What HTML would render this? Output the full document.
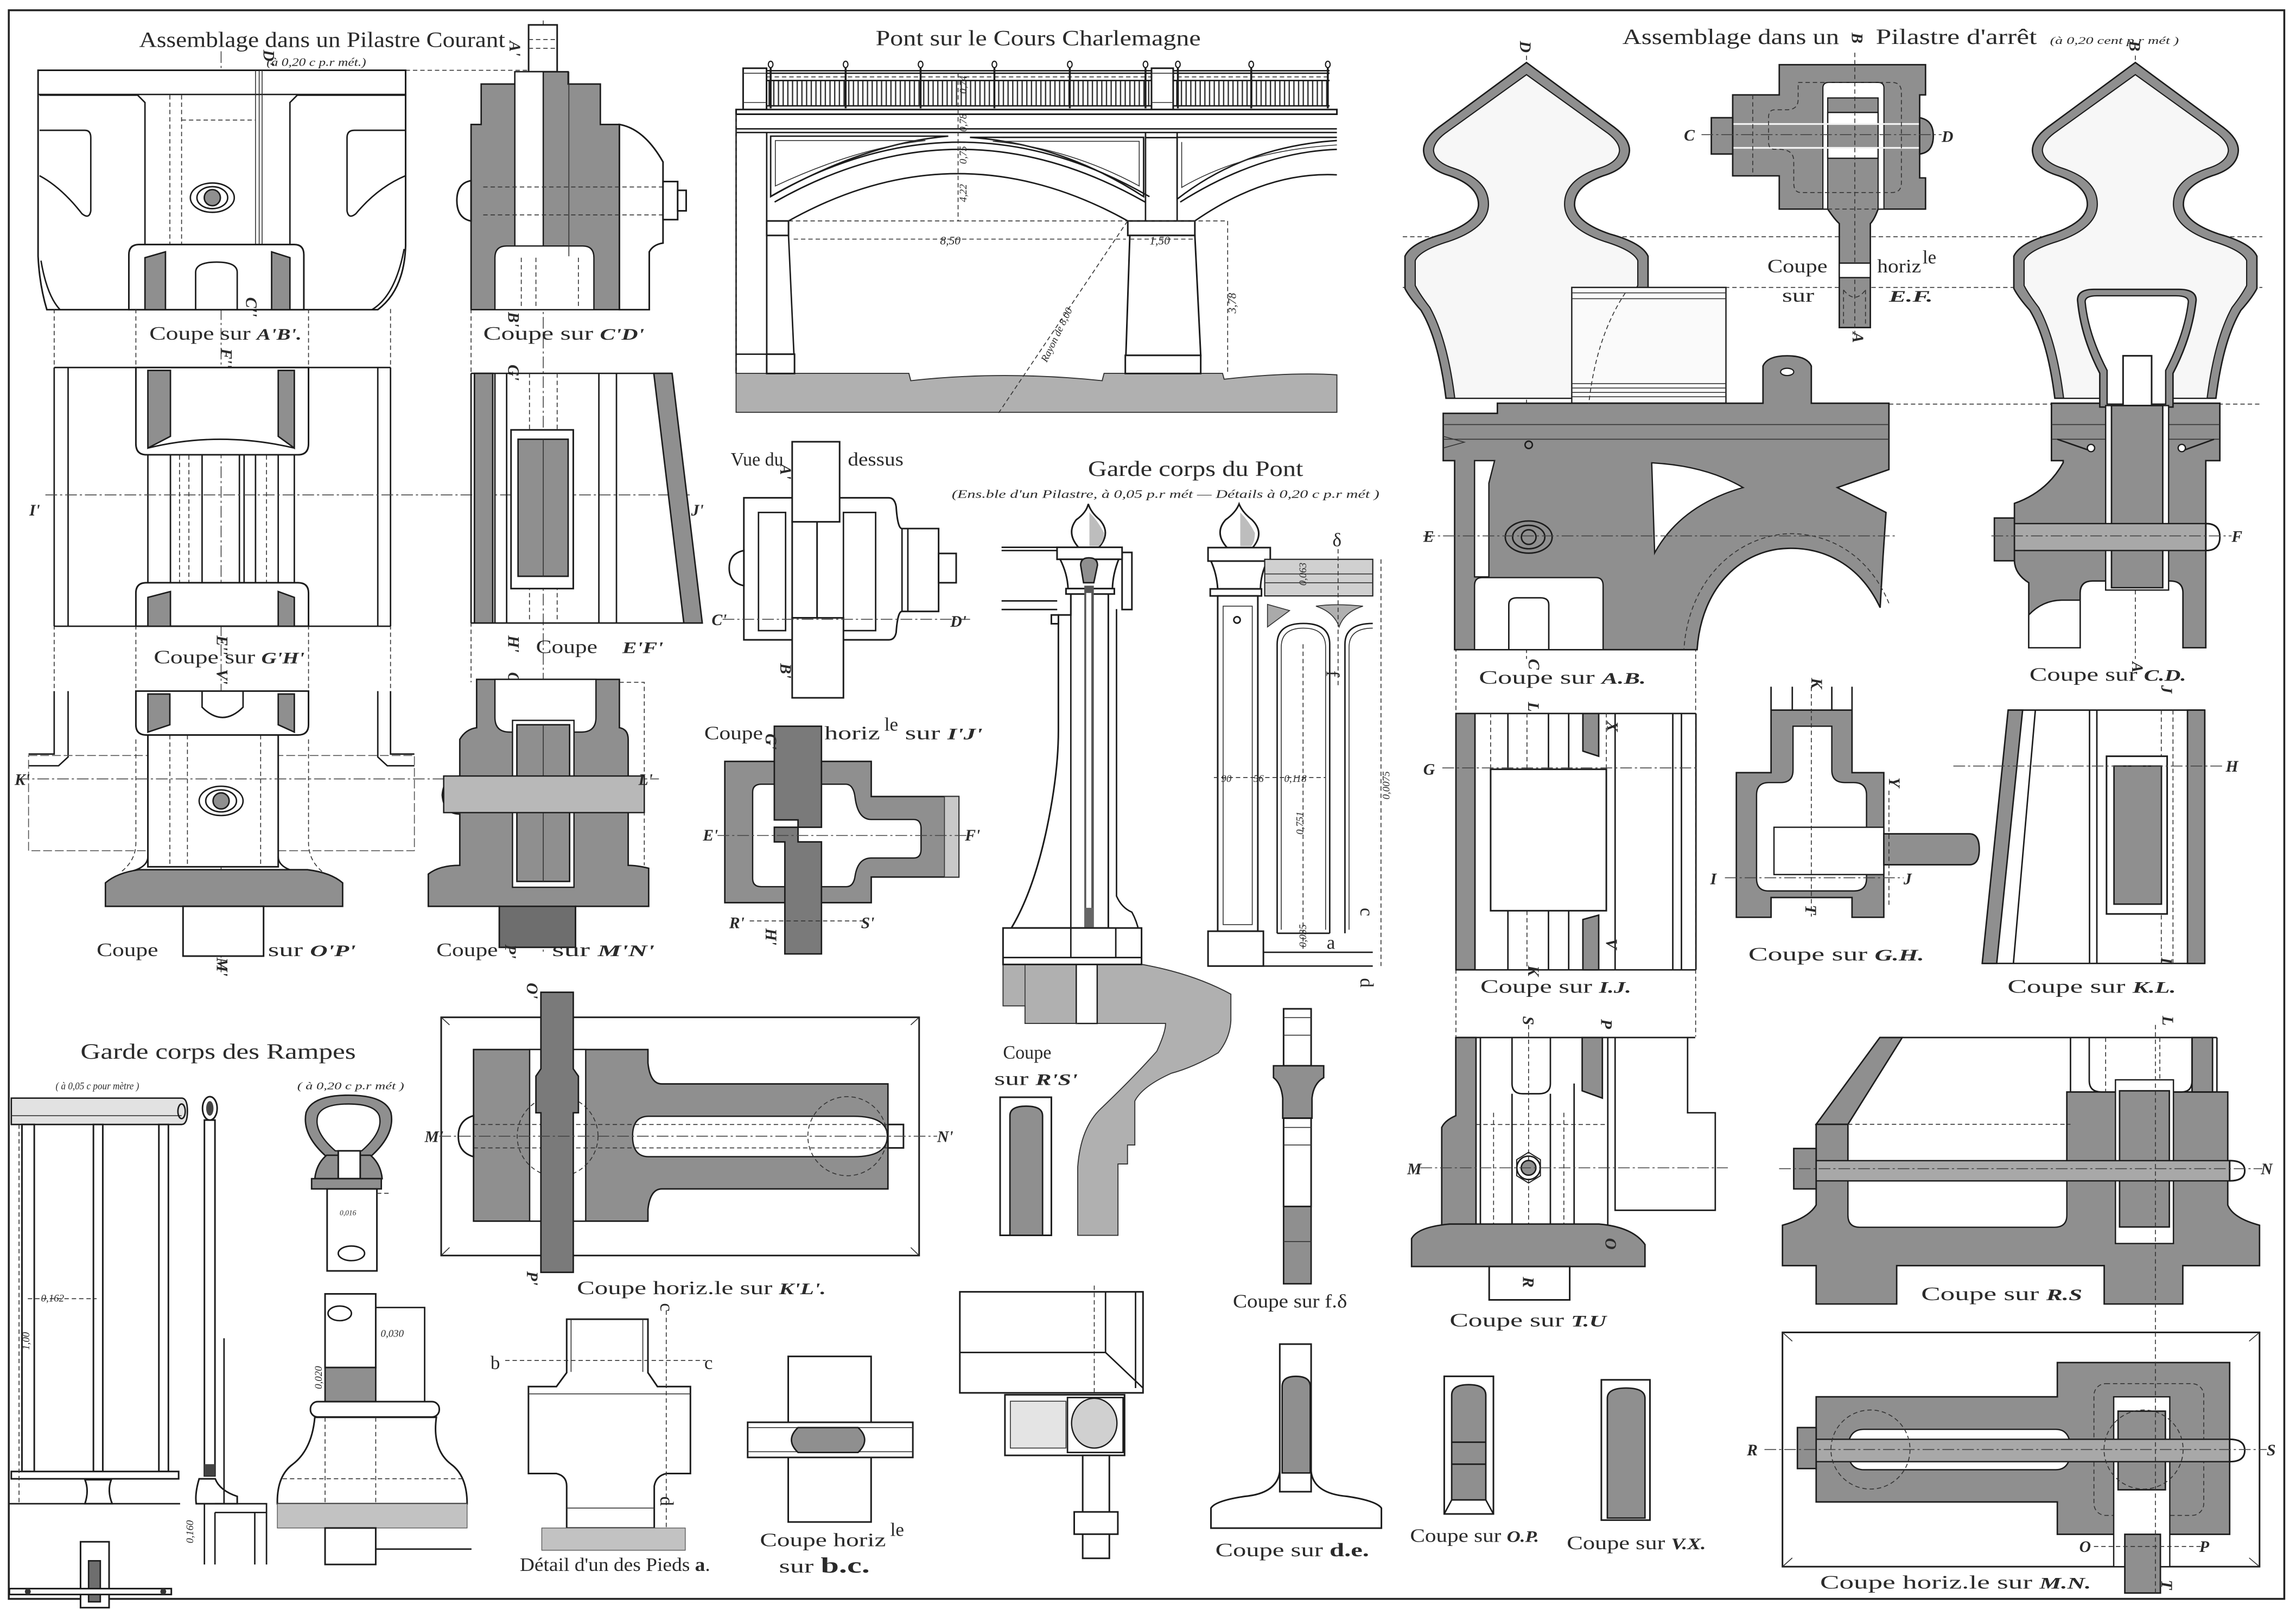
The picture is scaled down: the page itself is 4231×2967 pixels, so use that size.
<!DOCTYPE html>
<html><head><meta charset="utf-8"><style>
html,body{margin:0;padding:0;background:#fff}
svg{display:block}
.o{fill:#fff;stroke:#1c1c1c;stroke-width:1.1}
.w{fill:#fff;stroke:#1c1c1c;stroke-width:0.9}
.n{fill:none;stroke:#1c1c1c;stroke-width:1}
.t{fill:none;stroke:#333;stroke-width:0.6}
.d{fill:none;stroke:#333;stroke-width:0.6;stroke-dasharray:3 2}
.dd{fill:none;stroke:#444;stroke-width:0.6;stroke-dasharray:8 2 1.5 2}
.g{fill:#8f8f8f;stroke:#1c1c1c;stroke-width:1}
.gl{fill:#b6b6b6;stroke:#333;stroke-width:0.8}
.gd{fill:#6e6e6e;stroke:#1c1c1c;stroke-width:1}
text{font-family:"Liberation Serif",serif;fill:#2a2a2a}
.T{font-size:15px}
.L{font-size:13px}
.S{font-size:8px;font-style:italic}
.b{font-style:italic;font-weight:bold;font-size:11px}
.m{font-size:7px;font-style:italic}
</style></head><body>
<svg xmlns="http://www.w3.org/2000/svg" width="4231" height="2967" viewBox="0 0 1568 1099.6" preserveAspectRatio="none">
<defs>
<pattern id="bal" width="3.2" height="20" patternUnits="userSpaceOnUse"><rect x="0" y="0" width="0.9" height="20" fill="#333"/></pattern>
<path id="fin" d="M0,42.7 L60,87 Q70.5,95 70.3,103 Q69.5,115 52.5,120 Q32.5,127 32.8,140 Q33.5,152 57.5,160 Q79,166 83,175 V197 Q80,203 72,212 Q60,232 55,272 H-55 Q-60,232 -72,212 Q-80,203 -83,197 V175 Q-79,166 -57.5,160 Q-33.5,152 -32.8,140 Q-32.5,127 -52.5,120 Q-69.5,115 -70.3,103 Q-70.5,95 -60,87 Z"/>
<path id="finIn" d="M0,51 L55.5,91 Q63.5,97 63.5,103 Q62.5,111 49.5,115 Q25.5,123 26,140 Q26.5,156 53.5,165 Q73,171 76,178 V195 Q73,201 66,210 Q54,232 49,272 H-49 Q-54,232 -66,210 Q-73,201 -76,195 V178 Q-73,171 -53.5,165 Q-26.5,156 -26,140 Q-25.5,123 -49.5,115 Q-62.5,111 -63.5,103 Q-63.5,97 -55.5,91 Z"/>
</defs>
<rect x="0" y="0" width="1568" height="1099.6" fill="#fff"/>
<rect x="6" y="7" width="1554" height="1085" fill="none" stroke="#222" stroke-width="1.3"/>

<!-- ========== LEFT TOP : Pilastre Courant ========== -->
<text class="T" x="95" y="32" textLength="250" lengthAdjust="spacingAndGlyphs">Assemblage dans un Pilastre Courant</text>
<text class="S" x="182" y="45" textLength="68" lengthAdjust="spacingAndGlyphs">(à 0,20 c p.r mét.)</text>
<line class="d" x1="277" y1="48" x2="361" y2="48"/>
<line class="dd" x1="151" y1="35" x2="151" y2="665"/>
<line class="dd" x1="371" y1="14" x2="371" y2="650"/>

<!-- A'B' -->
<path class="o" d="M26,48H277V168Q276,198 258,211.5H32Q27,195 26,175Z"/>
<line class="n" x1="26" y1="64.5" x2="277" y2="64.5"/>
<path class="n" d="M27,65H94L99,70V167M277,65H203L198,70V167"/>
<path class="n" d="M27,89H58Q62,89 62,94V144Q61,150 56,146Q42,128 27,120"/>
<path class="n" d="M277,89H242Q237,89 237,94V144Q238,150 243,146Q258,128 277,120"/>
<path class="n" d="M28,178Q32,202 41,211.5M276,170Q270,202 254,211.5"/>
<path class="t" d="M174.5,48V167M177,48V167M179,48V167"/>
<path class="d" d="M116,65V211M124,65V211M124,82H174.5"/>
<path class="o" d="M88,211.5V174Q88,167 95,167H201Q207.5,167 207.5,174V211.5Z"/>
<polygon class="g" points="99,176 113,172 113,211.5 99,211.5"/>
<polygon class="g" points="185.5,172 198,176 198,211.5 185.5,211.5"/>
<path class="n" d="M133.6,211.5V186Q133.6,179 148,179Q162,179 162,186V211.5"/>
<ellipse class="n" cx="145" cy="135" rx="15" ry="10"/>
<ellipse class="n" cx="145" cy="135" rx="10.5" ry="7.5"/>
<circle class="g" cx="145" cy="135" r="5.5"/>
<text class="L" x="102" y="232" textLength="104" lengthAdjust="spacingAndGlyphs">Coupe sur <tspan class="b">A'B'.</tspan></text>
<text class="b" x="170" y="36" transform="rotate(90 176 40)">D'</text>
<text class="b" x="167" y="212" transform="rotate(90 172 208)">C''</text>

<!-- C'D' -->
<rect class="o" x="361" y="17" width="19.5" height="32"/>
<path class="d" d="M361,27H380.5M361,33H380.5"/>
<path class="g" d="M328.6,57.4H351.6V49H388V57.4H410V85H423V211.5H321.7V85H328.6Z"/>
<path class="o" d="M423,85Q440,88 452.8,110.6V166Q446,167 443.4,172V211.5H423Z"/>
<path class="w" d="M351.6,49H371V168Q371,174.5 365,174.5H357Q351.6,174.5 351.6,168Z"/>
<path class="w" d="M338,211.5V176Q338,168 346,168H398Q405.6,168 405.6,176V211.5Z"/>
<line class="t" x1="388.5" y1="49" x2="388.5" y2="175"/>
<path class="d" d="M330,127.7H454M330,146.8H454M356,176V211M366,176V211M395,176V211"/>
<path class="o" d="M321.7,123.4Q312,125 312,137Q312,149 321.7,151Z"/>
<rect class="o" x="452.8" y="124" width="10" height="26"/>
<rect class="o" x="462.8" y="130" width="5.8" height="14"/>
<text class="L" x="330" y="232" textLength="110" lengthAdjust="spacingAndGlyphs">Coupe sur <tspan class="b">C'D'</tspan></text>
<text class="b" x="346" y="38" transform="rotate(90 352 34)">A'</text>
<text class="b" x="346" y="222" transform="rotate(90 351 218)">B'</text>
<text class="b" x="346" y="258" transform="rotate(90 351 254)">G'</text>

<!-- projection lines -->
<path class="d" d="M37,211V251M92.8,211V251M210.7,211V251M266.7,211V251M321.7,211V255M37,427V472M92.8,427V472M210.7,427V472M266.7,427V472M321.7,425V466"/>

<!-- G'H' -->
<path class="n" d="M37,251V427.7M46.5,251V427.7M37,251H92.8M37,427.7H92.8M258,251V427.7M266.7,251V427.7M210.7,251H266.7M210.7,427.7H266.7"/>
<path class="n" d="M101,306V398M116.4,298V398M138,300V398M163.5,305V398M166.7,305V398M174.5,305V398M190,298V398M201,306V398"/>
<path class="d" d="M122.6,251V427M129,251V427M182,251V427"/>
<path class="o" d="M92.8,251V303Q92.8,310.6 100,310.6H203.5Q210.7,310.6 210.7,303V251Z"/>
<polygon class="g" points="101,253 116.4,253 116.4,298 101,306"/>
<polygon class="g" points="190,253 201,253 201,306 190,298"/>
<path class="n" d="M101,306Q150,294 201,306"/>
<path class="o" d="M92.8,427.7V405Q92.8,398 100,398H203.5Q210.7,398 210.7,405V427.7Z"/>
<polygon class="g" points="101,408 116.4,404 116.4,427.7 101,427.7"/>
<polygon class="g" points="190,404 201,408 201,427.7 190,427.7"/>
<line class="dd" x1="31" y1="338" x2="472" y2="338"/>
<text class="b" x="20" y="352">I'</text>
<text class="b" x="472" y="352">J'</text>
<text class="L" x="105" y="453" textLength="103" lengthAdjust="spacingAndGlyphs">Coupe sur <tspan class="b">G'H'</tspan></text>
<text class="b" x="149" y="248" transform="rotate(90 155 244)">F''</text>
<text class="b" x="146" y="444" transform="rotate(90 152 440)">E''</text>
<text class="b" x="146" y="467" transform="rotate(90 152 463)">V'</text>

<!-- E'F' -->
<path class="n" d="M321.7,255H459M321.7,425.5H479.6M321.7,255V425.5"/>
<rect class="g" x="324" y="255" width="12.5" height="170.5"/>
<path class="n" d="M338,255V425.5M346,255V425.5M409,255V425.5M421,255V425.5"/>
<path class="d" d="M361.6,255V425.5M380.5,255V425.5"/>
<rect class="o" x="349" y="293.6" width="42.5" height="108.4"/>
<rect class="g" x="353.8" y="300" width="34.2" height="93.6"/>
<line class="t" x1="371" y1="300" x2="371" y2="393.6"/>
<polygon class="g" points="446.5,255 459,255 479.6,425.5 467,425.5"/>
<text class="L" x="366" y="446" textLength="42" lengthAdjust="spacingAndGlyphs">Coupe</text>
<text class="b" x="425" y="446" textLength="28" lengthAdjust="spacingAndGlyphs">E'F'</text>
<text class="b" x="345" y="444" transform="rotate(90 351 440)">H'</text>
<text class="b" x="345" y="469" transform="rotate(90 351 465)">O'</text>

<!-- O'P' -->
<path class="n" d="M37,472V515H19.5M46.5,472V517L40,523H19.5M266.7,472V515H283M258,472V517L264.5,523H283"/>
<rect x="19.5" y="516" width="263.5" height="65" fill="none" stroke="#555" stroke-width="0.6" stroke-dasharray="6 2"/>
<rect class="o" x="101" y="502" width="89" height="90"/>
<path class="d" d="M92.8,505V575Q93,588 82,596M210.7,505V575Q210.5,588 221,596M116,502V592M128,502V592M178,502V592"/>
<path class="o" d="M92.8,472V495Q92.8,502 100,502H203.5Q210.7,502 210.7,495V472Z"/>
<polygon class="g" points="101,474 116,474 116,495 101,500"/>
<polygon class="g" points="190,474 201,474 201,500 190,495"/>
<path class="n" d="M138,472V483Q152,497 166,483V472"/>
<path class="n" d="M101,585Q101,592 90,595M190,585Q190,592 201,595"/>
<path class="g" d="M72,603Q80,596 95,594H210Q226,596 234,603V619H72Z"/>
<rect class="o" x="125" y="619" width="55" height="34"/>
<ellipse class="n" cx="151" cy="547" rx="15" ry="10"/>
<ellipse class="n" cx="151" cy="547" rx="10.5" ry="7.5"/>
<circle class="g" cx="151" cy="547" r="5.5"/>
<line class="dd" x1="12" y1="532" x2="450" y2="532"/>
<text class="b" x="10" y="536">K'</text>
<text class="L" x="66" y="653" textLength="42" lengthAdjust="spacingAndGlyphs">Coupe</text>
<text class="L" x="183" y="653" textLength="60" lengthAdjust="spacingAndGlyphs">sur <tspan class="b">O'P'</tspan></text>
<text class="b" x="146" y="664" transform="rotate(90 152 660)">M'</text>

<!-- M'N' -->
<path class="g" d="M325.5,464H423V497Q429,498 429,505V591Q435,591 443,593V619H393V647H341V619H292.5V597Q300,591 314,591V556Q303,556 302,543Q303,530 314,530V505Q318,498 325.5,497Z"/>
<path class="w" d="M338,464V490Q338,500 348,500H397Q407,500 407,490V464Z"/>
<path class="d" d="M423,466H440V591"/>
<rect class="w" x="350" y="492" width="42" height="114"/>
<rect class="g" x="353" y="495" width="36" height="107"/>
<line class="t" x1="371" y1="495" x2="371" y2="602"/>
<rect x="303" y="530" width="137" height="25" fill="#b8b8b8" stroke="#1c1c1c" stroke-width="0.9"/>
<rect class="gd" x="341" y="619" width="52" height="28"/>
<text class="b" x="436" y="536">L'</text>
<text class="L" x="298" y="653" textLength="42" lengthAdjust="spacingAndGlyphs">Coupe</text>
<text class="L" x="377" y="653" textLength="70" lengthAdjust="spacingAndGlyphs">sur <tspan class="b">M'N'</tspan></text>
<text class="b" x="344" y="654" transform="rotate(90 349 650)">P'</text>

<!-- ========== PONT ========== -->
<text class="T" x="598" y="31" textLength="222" lengthAdjust="spacingAndGlyphs">Pont sur le Cours Charlemagne</text>
<path d="M502.7,255H620.7L622,260Q685,253 752.7,260L754,255H834.9L836,259Q880,254 913,256V281.6H502.7Z" fill="#b0b0b0" stroke="#333" stroke-width="0.7"/>
<rect x="524" y="55" width="384" height="17.3" fill="url(#bal)"/>
<path class="n" d="M524,48.3H908M524,50H908M524,55H908M524,72.3H908"/>
<path class="d" d="M524,52.5H908"/>
<path stroke="#1c1c1c" stroke-width="1.3" d="M526.3,44V74M577.5,44V74M628.7,44V74M679.1,44V74M730.6,44V74M782.3,44V74M804.4,44V74M854.5,44V74M906.8,44V74"/>
<g fill="#fff" stroke="#1c1c1c" stroke-width="0.8">
<ellipse cx="526.3" cy="44" rx="1.6" ry="2.2"/><ellipse cx="577.5" cy="44" rx="1.6" ry="2.2"/><ellipse cx="628.7" cy="44" rx="1.6" ry="2.2"/><ellipse cx="679.1" cy="44" rx="1.6" ry="2.2"/><ellipse cx="730.6" cy="44" rx="1.6" ry="2.2"/><ellipse cx="782.3" cy="44" rx="1.6" ry="2.2"/><ellipse cx="804.4" cy="44" rx="1.6" ry="2.2"/><ellipse cx="854.5" cy="44" rx="1.6" ry="2.2"/><ellipse cx="906.8" cy="44" rx="1.6" ry="2.2"/>
</g>
<rect class="o" x="507.5" y="46.6" width="16" height="28.2"/>
<path class="t" d="M507.5,50H523.5M507.5,70H523.5"/>
<rect class="o" x="786.4" y="46.6" width="14.8" height="28.2"/>
<path class="t" d="M786.4,50H801.2M786.4,70H801.2"/>
<rect class="o" x="502.7" y="74.8" width="410.3" height="3.2"/>
<path class="n" d="M502.7,78H913M502.7,88H913M502.7,90.5H913"/>
<path class="n" d="M502.7,74.8V255.1M523.6,90.5V255.1M782.3,90.5V150.9M803.9,90.5V150.9M782.3,94H803.9"/>
<path class="d" d="M502.7,78V255"/>
<path class="n" d="M502.7,241.9H542"/>
<path class="n" d="M526.3,93H647.6Q590,98 526.3,134.3Z"/>
<path class="t" d="M529.5,96H632Q585,101 529.5,127Z"/>
<path class="n" d="M662.4,93.8H781V134.3Q725,98 662.4,93.8Z"/>
<path class="t" d="M678,96.5H778V127Q730,101 678,96.5Z"/>
<path class="n" d="M803.9,93.8H913M803.9,93.8V136Q850,100 913,96"/>
<path class="t" d="M807,97V128Q850,103 913,99"/>
<path class="n" d="M526,134.3Q655.5,59.9 785,134.3M529,138Q655.5,66 782,138"/>
<path class="n" d="M806,138Q860,104 913,102"/>
<path class="n" d="M538.5,150.9Q654.3,86.3 770.2,150.9"/>
<path class="n" d="M816,150.9Q865,117 913,119.4"/>
<rect class="o" x="523.6" y="150.9" width="14.9" height="9.9"/>
<path class="n" d="M523.6,160.8V241.9M538.5,160.8L542.2,241.9"/>
<rect class="o" x="523.6" y="241.9" width="19" height="13.2"/>
<rect class="o" x="770.2" y="150.9" width="45.8" height="9.9"/>
<path class="o" d="M771.6,160.8H816L820,242.7H768.9Z"/>
<rect class="o" x="768.5" y="242.7" width="51.5" height="12.4"/>
<path class="d" d="M538.5,150.9H838.4M542,163.3H768.9M771.6,163.3H816M838.4,150.9V255.1M654.3,50V150.9M770,151L682,282"/>
<text class="S" x="642" y="167" font-size="9">8,50</text>
<text class="S" x="785" y="167" font-size="9">1,50</text>
<text class="S" x="836" y="214" transform="rotate(-90 840 210)" font-size="9">3,78</text>
<text class="m" x="700" y="232" transform="rotate(-64 720 228)">Rayon de 8,00</text>
<text class="m" x="650" y="60" transform="rotate(-90 657 57)">0,74</text>
<text class="m" x="650" y="86" transform="rotate(-90 657 83)">0,78</text>
<text class="m" x="650" y="108" transform="rotate(-90 657 105)">0,75</text>
<text class="m" x="650" y="134" transform="rotate(-90 657 131)">4,22</text>

<!-- Vue du dessus -->
<text class="L" x="499" y="318" font-size="11" textLength="36" lengthAdjust="spacingAndGlyphs">Vue du</text>
<text class="L" x="579" y="318" font-size="11" textLength="38" lengthAdjust="spacingAndGlyphs">dessus</text>
<path class="o" d="M508,340H607Q611,340 612,346Q613,361 616,361H641V417.6H616Q613,417.6 612,432Q611,437 607,437H508Z"/>
<rect class="o" x="641" y="378" width="12" height="20"/>
<path class="o" d="M508,376Q498,378 498,388Q498,398 508,400Z"/>
<rect class="n" x="518" y="350" width="18.5" height="80.7"/>
<rect class="n" x="576" y="350" width="22" height="80.7"/>
<path class="n" d="M616,361V417.6M620,361V417.6"/>
<rect class="o" x="541" y="356" width="17" height="66"/>
<rect class="o" x="541" y="301.7" width="32.4" height="54.7"/>
<rect class="o" x="541" y="422" width="35" height="54.6"/>
<line class="dd" x1="493.5" y1="423" x2="662.5" y2="423"/>
<text class="b" x="486" y="427">C'</text>
<text class="b" x="649" y="428">D'</text>
<text class="b" x="531" y="327" transform="rotate(90 537 323)">A'</text>
<text class="b" x="531" y="463" transform="rotate(90 537 459)">B'</text>

<!-- Coupe horiz I'J' -->
<text class="L" x="481" y="505" textLength="40" lengthAdjust="spacingAndGlyphs">Coupe</text>
<text class="L" x="563" y="505" textLength="38" lengthAdjust="spacingAndGlyphs">horiz</text>
<text class="L" x="604" y="499" font-size="8">le</text>
<text class="L" x="618" y="505" textLength="53" lengthAdjust="spacingAndGlyphs">sur <tspan class="b">I'J'</tspan></text>
<path class="g" d="M495,520H595V544H654.8V599H595V616.5H495Z"/>
<path class="w" d="M514,541Q514,535.6 520,535.6H578Q583,536 584,545Q586,559.7 595,559.7H624Q629,559.7 629,566V580Q629,586 624,586H595Q586,586 584,598Q583,605.6 578,605.6H520Q514,605.6 514,600Z"/>
<rect x="645" y="544" width="9.8" height="55" fill="#c8c8c8" stroke="#333" stroke-width="0.6"/>
<path fill="#7a7a7a" stroke="#1c1c1c" stroke-width="1" d="M528.8,496H561V565H545V575H561V651.5H536V575H528.8V565H545V560H528.8Z"/>
<line class="dd" x1="490" y1="570.6" x2="662" y2="570.6"/>
<line class="d" x1="512" y1="629" x2="590" y2="629"/>
<text class="b" x="480" y="574">E'</text>
<text class="b" x="659" y="574">F'</text>
<text class="b" x="498" y="634">R'</text>
<text class="b" x="588" y="634">S'</text>
<text class="b" x="521" y="511" transform="rotate(90 527 507)">G'</text>
<text class="b" x="521" y="644" transform="rotate(90 527 640)">H'</text>

<!-- Garde corps du Pont -->
<text class="T" x="743" y="325" textLength="147" lengthAdjust="spacingAndGlyphs">Garde corps du Pont</text>
<text class="S" x="650" y="340" font-size="9" textLength="292" lengthAdjust="spacingAndGlyphs">(Ens.ble d'un Pilastre, à 0,05 p.r mét — Détails à 0,20 c p.r mét )</text>
<!-- stone / corbel -->
<path d="M685,658.7H780Q815,665 840.6,679V697Q840,709 832,719Q815,729 800,733Q780,742 775,752V782H770V795H763.5V843.7H736V797Q738,770 752,757Q775,735 790,718Q796,705 796,699H700V687H685Z" fill="#b0b0b0" stroke="#333" stroke-width="0.7"/>
<rect class="w" x="735" y="658.7" width="14.3" height="40.3"/>
<path class="t" d="M700,658.7V687M711,699H736"/>
<!-- left pilaster side -->
<path class="n" d="M684,373.8H722M684,376H722M684,410.4H722M684,416.3H722"/>
<rect class="o" x="766.3" y="377.3" width="6.7" height="39"/>
<path class="o" d="M731.3,405.7H756.9V633.8H690.7Q705,610 714,570Q722.8,530 722.8,499V420H731.3Z"/>
<path class="n" d="M731.3,405.7V633.8M762.5,416V612Q766,620 773,623Q779.6,635 779.6,654"/>
<rect class="o" x="718" y="420" width="4.8" height="6"/>
<path class="o" d="M736.5,373.8Q728,364 735,355Q742,350 743.2,344.2Q745,350 751,355Q759,364 750.5,373.8Z"/>
<path fill="#bdbdbd" d="M744,350Q750,356 754,364Q754,370 750.5,373H744Z"/>
<rect class="o" x="721.9" y="373.8" width="44.4" height="8.2"/>
<path class="o" d="M724,382H764Q760,392 759.7,402H729.4Q729,392 724,382Z"/>
<rect class="o" x="728" y="402" width="33" height="3.7"/>
<path class="g" d="M738,386Q738,381 743.6,381Q749.5,381 749.5,386L747,398H740Z"/>
<rect x="740.5" y="400" width="6.5" height="251" fill="#555"/>
<rect x="741.8" y="405" width="3.5" height="225" fill="#fff"/>
<rect x="740.5" y="620" width="6.5" height="16" fill="#666"/>
<rect class="o" x="685" y="633.8" width="94.6" height="24.9"/>
<path class="n" d="M685,654H779.6M731.3,633.8V654M762,633.8V654"/>

<!-- elevation -->
<path class="o" d="M838,374Q829,364 837,355Q844,350 846.2,344.2Q848.5,350 855,355Q864,364 855.5,374Z"/>
<path fill="#bdbdbd" d="M847,350Q853,356 857,364Q857,370 854.5,373H847Z"/>
<rect class="o" x="825" y="374" width="42.5" height="9.2"/>
<path class="o" d="M827,383.2H865.5Q861,392 860.8,402.2H831.6Q831,392 827,383.2Z"/>
<rect class="o" x="826.5" y="402.2" width="35" height="4.8"/>
<rect class="o" x="831.6" y="407" width="27.4" height="229"/>
<rect class="t" x="835.3" y="414" width="19.9" height="217.5"/>
<circle class="n" cx="844.8" cy="423.4" r="2.2"/>
<circle class="n" cx="843.9" cy="642.1" r="2.2"/>
<rect class="o" x="825" y="636" width="37.8" height="23.8"/>
<rect x="863.7" y="382" width="73.8" height="25" fill="#d0d0d0" stroke="#222" stroke-width="0.8"/>
<path class="t" d="M863.7,392H937.5M863.7,398H937.5"/>
<path class="n" d="M872.2,637.4V440Q872.2,425.8 890.1,425.8Q908.1,425.8 908.1,440V637.4M918.5,637.4V440Q918.5,425.8 937.5,425.8"/>
<path class="t" d="M875,635V442Q875,429 890.1,429Q905.3,429 905.3,442V635M921.3,635V442Q921.3,429 937.5,429"/>
<path class="n" d="M862.8,650.4H937.5M862.8,659.8H937.5M872.2,637.4H908.1"/>
<polygon fill="#aaa" stroke="#333" stroke-width="0.6" points="865.6,412.8 880.7,417 865.6,428.2"/>
<path fill="#b0b0b0" stroke="#333" stroke-width="0.6" d="M898.7,414Q912,412 930.8,414Q918,418 914.5,428.2Q911,418 898.7,414Z"/>
<path class="d" d="M943.1,382V659.8M829,531H905M889.9,440V650M913.8,375V470"/>
<text class="m" x="834" y="534">90</text>
<text class="m" x="856" y="534">56</text>
<text class="m" x="877" y="534">0,118</text>
<text class="m" x="938" y="545" transform="rotate(-90 944 540)">0,0075</text>
<text class="m" x="883" y="569" transform="rotate(-90 887 566)">0,751</text>
<text class="m" x="886" y="398" transform="rotate(-90 890 396)">0,063</text>
<text class="m" x="886" y="645" transform="rotate(-90 890 643)">0,035</text>
<text class="L" x="905" y="467" transform="rotate(90 910 463)">f</text>
<text class="L" x="910" y="373" font-size="14">δ</text>
<text class="L" x="928" y="629" transform="rotate(90 933 625)">c</text>
<text class="L" x="906" y="648" font-size="14">a</text>
<text class="L" x="928" y="677" transform="rotate(90 933 673)">d</text>

<!-- Coupe R'S' -->
<text class="L" x="685" y="723" font-size="12" textLength="33" lengthAdjust="spacingAndGlyphs">Coupe</text>
<text class="L" x="679" y="741" font-size="12" textLength="57" lengthAdjust="spacingAndGlyphs">sur <tspan class="b">R'S'</tspan></text>
<rect class="o" x="683" y="749.4" width="35" height="94.3"/>
<path class="g" d="M689.7,843.7V762Q689.7,755.5 700.8,755.5Q712,755.5 712,762V843.7Z"/>

<!-- Coupe f.delta -->
<rect class="o" x="876.6" y="689" width="18.8" height="38.9"/>
<path class="t" d="M876.6,695H895.4M876.6,707H895.4"/>
<path class="g" d="M869.7,727.9H904V736Q897,740 896,750V763.7H876V750Q875,740 869.7,736Z"/>
<rect class="o" x="876.6" y="763.7" width="18.8" height="60.3"/>
<path class="t" d="M876.6,770H895.4M876.6,782H895.4"/>
<rect class="g" x="876.6" y="824" width="18.8" height="52.8"/>
<line class="t" x1="876.6" y1="848" x2="895.4" y2="848"/>
<text class="L" x="842" y="893" font-size="12" textLength="78" lengthAdjust="spacingAndGlyphs">Coupe sur f.δ</text>

<!-- box detail -->
<rect class="o" x="655.5" y="882.3" width="125.1" height="69"/>
<path class="n" d="M655.5,923.7H755L780.6,948M755,882.3V923.7M775.5,882.3V948"/>
<path class="d" d="M747.3,878V965"/>
<rect class="o" x="686.3" y="952.6" width="81.7" height="41.4"/>
<rect x="690" y="957" width="38" height="32" fill="#e4e4e4" stroke="#333" stroke-width="0.6"/>
<rect class="n" x="729" y="954.5" width="38" height="37.5"/>
<ellipse cx="747.3" cy="972" rx="15.5" ry="17" fill="#d0d0d0" stroke="#1c1c1c" stroke-width="0.9"/>
<rect class="o" x="739.4" y="994" width="18.2" height="70.3"/>
<rect class="o" x="733.6" y="1032.6" width="29.8" height="15.2"/>

<!-- Coupe d.e -->
<path class="o" d="M874,1005Q872,1020 850,1022Q830,1025 827,1030V1043.7H943.4V1030Q940,1025 920,1022Q897,1020 895.4,1005Z"/>
<rect class="o" x="874" y="918" width="21.4" height="100.8"/>
<path class="g" d="M875.6,1006V947Q875.6,940 885,940Q894.8,940 894.8,947V1006Z"/>
<text class="L" x="830" y="1063" textLength="105" lengthAdjust="spacingAndGlyphs">Coupe sur <tspan font-weight="bold">d.e.</tspan></text>

<!-- Coupe O.P. / V.X. -->
<rect class="o" x="986.3" y="940" width="33.6" height="94"/>
<path class="g" d="M991.4,1024.4V953Q991.4,945.7 1003,945.7Q1014.7,945.7 1014.7,953V1024.4Z"/>
<path class="n" d="M991.4,1024.4L986.3,1034M1014.7,1024.4L1019.9,1034M991.4,985H1014.7M991.4,1000H1014.7"/>
<text class="L" x="963" y="1053" font-size="11" textLength="88" lengthAdjust="spacingAndGlyphs">Coupe sur <tspan class="b">O.P.</tspan></text>
<rect class="o" x="1093.6" y="942.4" width="33.2" height="95.8"/>
<path class="g" d="M1097.7,1036.8V955Q1097.7,948 1110.5,948Q1123.4,948 1123.4,955V1036.8Z"/>
<text class="L" x="1070" y="1058" font-size="11" textLength="95" lengthAdjust="spacingAndGlyphs">Coupe sur <tspan class="b">V.X.</tspan></text>

<!-- ========== BOTTOM LEFT : Rampes ========== -->
<text class="T" x="55" y="723" font-size="16" textLength="188" lengthAdjust="spacingAndGlyphs">Garde corps des Rampes</text>
<text class="m" x="38" y="744" textLength="57" lengthAdjust="spacingAndGlyphs">( à 0,05 c pour mètre )</text>
<text class="m" x="203" y="744" textLength="73" lengthAdjust="spacingAndGlyphs">( à 0,20 c p.r mét )</text>
<path d="M7.7,750H124Q128,750 128,759Q128,768 124,768H7.7Z" fill="#e2e2e2" stroke="#1c1c1c" stroke-width="1"/>
<path class="t" d="M7.7,762H124"/>
<ellipse class="n" cx="124" cy="759" rx="2.5" ry="5"/>
<rect class="o" x="15" y="768" width="8.4" height="237"/>
<rect class="o" x="63.8" y="768" width="6.4" height="237"/>
<rect class="o" x="108.5" y="768" width="6.5" height="237"/>
<rect class="o" x="7.7" y="1005" width="114.3" height="5"/>
<path class="o" d="M58,1010.6Q61,1018 58,1027H76.6Q73,1018 76,1010.6Z"/>
<path class="n" d="M6,1027H123"/>
<path class="d" d="M13,768V1027M19,887H66"/>
<text class="m" x="12" y="922" transform="rotate(-90 16 918)">1,00</text>
<text class="m" x="28" y="889">0,162</text>
<ellipse class="o" cx="143.3" cy="757" rx="5" ry="8"/>
<ellipse cx="143.3" cy="757" rx="2.5" ry="5" fill="#444"/>
<rect class="o" x="139.6" y="765" width="7.2" height="243"/>
<rect x="139.6" y="1000" width="7.2" height="8" fill="#444"/>
<path class="o" d="M136,1010Q133,1020 134,1027H162V1022Q150,1018 147,1010Z"/>
<path class="n" d="M146.8,1027H182V1033H146.8M139.6,1027V1068.5M146.8,1033V1068.5M174,1033V1068.5M182,1027V1068.5M153,914V1027"/>
<text class="m" x="124" y="1054" transform="rotate(-90 128 1050)">0,160</text>
<rect class="o" x="55" y="1053" width="19.5" height="45"/>
<rect class="gd" x="60.5" y="1066" width="8" height="28"/>
<rect class="o" x="6.4" y="1085" width="110.6" height="4"/>
<circle cx="19" cy="1087" r="2" fill="#333"/>
<circle cx="111.5" cy="1087" r="2" fill="#333"/>

<!-- handrail section -->
<path class="g" d="M223,790Q206,775 209,760Q213,748 238,748Q263,748 267,760Q270,775 253,790Z"/>
<path class="w" d="M229,786Q214,773 217,762Q220,754 238,754Q256,754 259,762Q262,773 247,786Z"/>
<path class="g" d="M215,805Q216,795 223,789H253Q260,795 261,805Z"/>
<rect class="o" x="231" y="786" width="15" height="19"/>
<rect class="g" x="212.8" y="805" width="47.6" height="7"/>
<rect class="o" x="223.4" y="812" width="34" height="56"/>
<ellipse class="n" cx="240" cy="856" rx="9" ry="5"/>
<text x="232" y="830" font-size="5" font-style="italic">0,016</text>
<path class="d" d="M257.4,815H266"/>
<rect class="o" x="222" y="883.7" width="34.6" height="50.3"/>
<ellipse class="n" cx="232" cy="897" rx="8" ry="5"/>
<path class="n" d="M256.6,893H290V960"/>
<rect class="g" x="222" y="934" width="34.6" height="23.3"/>
<path class="o" d="M215,968Q213,990 200,1000Q189,1008 189.4,1027H319Q319,1008 308,1000Q295,990 298,968Z"/>
<rect class="o" x="212" y="957.3" width="88" height="10.5" rx="5"/>
<path class="d" d="M222,968V1027M256.6,968V1027M193,1010H316"/>
<rect x="189.4" y="1027" width="129.6" height="16.6" fill="#c2c2c2" stroke="#555" stroke-width="0.5"/>
<rect class="o" x="222" y="1043.6" width="34.6" height="24.9"/>
<path class="n" d="M256.6,1058H322"/>
<text class="m" x="260" y="913">0,030</text>
<text class="m" x="211" y="948" transform="rotate(-90 215.7 944)">0,020</text>

<!-- Coupe horiz K'L' -->
<rect class="o" x="301.3" y="694.8" width="326.4" height="162.7"/>
<path class="t" d="M301.3,694.8L307,700M627.7,694.8L622,700M301.3,857.5L307,852M627.7,857.5L622,852"/>
<path class="g" d="M323.4,716.8H442.5V726Q444,740.3 452,740.3H606.4V812H452Q444,812 442.5,826V834H323.4Z"/>
<path class="w" d="M443,762.4H583Q606,762.4 606,776Q606,790 583,790H443Q432,790 432,776Q432,762.4 443,762.4Z"/>
<rect class="w" x="361.7" y="716.8" width="38.3" height="117.2"/>
<path class="d" d="M323.4,768H606M323.4,784H606"/>
<circle class="d" cx="380.8" cy="776" r="27.6"/>
<circle class="d" cx="578.7" cy="776" r="27"/>
<path fill="#7a7a7a" stroke="#1c1c1c" stroke-width="1" d="M369.4,677.7H391.5V730L395,735V760H391.5V869H369.4V760H366V735L369.4,730Z"/>
<path class="o" d="M323.4,762Q313,765 313,776Q313,787 323.4,790Z"/>
<rect class="o" x="606.4" y="768" width="10.6" height="16"/>
<line class="dd" x1="300" y1="776" x2="640" y2="776"/>
<text class="b" x="290" y="780">M'</text>
<text class="b" x="640" y="780">N'</text>
<text class="b" x="357" y="682" transform="rotate(90 363.8 678)">O'</text>
<text class="b" x="357" y="879" transform="rotate(90 363.8 875)">P'</text>
<text class="L" x="394" y="884" font-size="14" textLength="170" lengthAdjust="spacingAndGlyphs">Coupe horiz.le sur <tspan class="b">K'L'.</tspan></text>

<!-- Detail d'un des pieds -->
<path class="o" d="M387,901V937.5L380,947H360.9V1006.4H380Q387,1008 387,1015V1043.6H446.8V1015Q448,1008 455,1006.4H471.5V947H449L442.5,937.5V901Z"/>
<path class="t" d="M360.9,952H471.5M387,1030H446.8M390,901V937M439,901V937"/>
<rect x="370" y="1043.6" width="98" height="15.2" fill="#c2c2c2" stroke="#555" stroke-width="0.5"/>
<path class="d" d="M345,929.2H482M455,895V1043"/>
<text class="L" x="335" y="935" font-size="14">b</text>
<text class="L" x="481" y="935" font-size="14">c</text>
<text class="L" x="450" y="899" transform="rotate(90 455 895)" font-size="12">c</text>
<text class="L" x="450" y="1031" transform="rotate(90 455 1027)" font-size="12">d</text>
<text class="L" x="355" y="1073" font-size="11" textLength="130" lengthAdjust="spacingAndGlyphs">Détail d'un des Pieds <tspan font-weight="bold" font-size="13">a</tspan>.</text>

<!-- Coupe horiz b.c -->
<rect class="o" x="538.3" y="926.4" width="56.6" height="113.1"/>
<rect class="o" x="510.6" y="971.4" width="112.8" height="24"/>
<path class="t" d="M510.6,975H623.4M510.6,991.5H623.4"/>
<path class="g" d="M545,975H586Q595,983.4 586,992H545Q536,983.4 545,975Z"/>
<text class="L" x="519" y="1056" textLength="86" lengthAdjust="spacingAndGlyphs">Coupe horiz</text>
<text class="L" x="608" y="1049" font-size="8">le</text>
<text class="L" x="532" y="1074" textLength="62" lengthAdjust="spacingAndGlyphs">sur <tspan font-weight="bold" font-size="15">b.c.</tspan></text>

<!-- ========== RIGHT : Pilastre d'arret ========== -->
<text class="T" x="1108" y="30" textLength="148" lengthAdjust="spacingAndGlyphs">Assemblage dans un</text>
<text class="T" x="1281" y="30" textLength="110" lengthAdjust="spacingAndGlyphs">Pilastre d'arrêt</text>
<text class="m" x="1400" y="30" textLength="88" lengthAdjust="spacingAndGlyphs">(à 0,20 cent p.r mét )</text>
<path class="d" d="M958,161.7H1545M958,196.3H1545M1180,276H1545M994.3,442V708M1158,442V708M1042.5,38V450M1458.3,38V450"/>

<!-- A.B. finial -->
<use href="#fin" x="1042.5" fill="#8f8f8f" stroke="#1c1c1c" stroke-width="1"/>
<use href="#finIn" x="1042.5" fill="#f7f7f7" stroke="#1c1c1c" stroke-width="0.8"/>
<!-- A.B. main block -->
<path class="g" d="M985.6,282.3H1022.6V275.4H1204V250Q1207,243 1220.5,243Q1234,243 1237,250V275.4H1290V320.7L1254.8,333L1288,350L1286,380L1284,415C1270,385 1245,374 1221.6,374.5C1190,375 1162,400 1159,443.7H993.4V314.6H985.6Z"/>
<path class="d" d="M1290,412C1276,378 1248,364 1221.6,364.5C1186,366 1153,396 1150,443.7"/>
<path class="t" d="M985.6,290H1290M985.6,300H1290M985.6,306L1000,302L985.6,298"/>
<ellipse cx="1220.5" cy="254" rx="4.5" ry="2.5" fill="#fff" stroke="#1c1c1c" stroke-width="0.8"/>
<path class="w" d="M1128,316.1Q1165,318 1190.4,333Q1148,345 1130,377.6Z"/>
<path class="w" d="M1007,314.6H1020.7L1016.8,330V394H1007Z"/>
<path class="w" d="M1007,443.7V400Q1007,394.5 1012,394.5H1090Q1094.8,394.5 1094.8,400V443.7Z"/>
<path class="n" d="M1030.4,443.7V413Q1030.4,408.3 1036,408.3H1052Q1057.7,408.3 1057.7,413V443.7"/>
<rect x="1073.4" y="196.3" width="105.3" height="79" fill="#fafafa" stroke="#1c1c1c" stroke-width="0.9"/>
<path class="t" d="M1073.4,200H1178.7M1073.4,204H1178.7M1073.4,262H1178.7M1073.4,265H1178.7M1073.4,268H1178.7M1073.4,271H1178.7"/>
<path class="d" d="M1110,200Q1090,230 1085,276"/>
<circle class="n" cx="1044" cy="303.8" r="2.5"/>
<ellipse class="n" cx="1044" cy="366.8" rx="16" ry="11"/>
<ellipse class="n" cx="1044" cy="366.8" rx="11" ry="8"/>
<circle class="g" cx="1044" cy="366.8" r="5"/>
<line class="dd" x1="972" y1="366" x2="1296" y2="366"/>
<text class="b" x="972" y="370">E</text>
<text class="b" x="1036" y="38" transform="rotate(90 1042 34)">D</text>
<text class="b" x="1042" y="460" transform="rotate(90 1048 456)">C</text>
<text class="L" x="1010" y="467" textLength="114" lengthAdjust="spacingAndGlyphs">Coupe sur <tspan class="b">A.B.</tspan></text>

<!-- Coupe horiz E.F. -->
<path class="g" d="M1215.1,44.2H1315V64.8H1311V121.5H1315V142.8H1282.6Q1280,150 1277.3,152.7V223.7H1256.1V152.7Q1253,150 1248.2,142.8H1215.1V120.1H1183.3V64.8H1215.1Z"/>
<path fill="#fff" stroke="#1c1c1c" stroke-width="0.8" d="M1244.9,142.8V60Q1244.9,56.3 1249,56.3H1282.5Q1286.6,56.3 1286.6,60V142.8H1282.6V66.9H1248.2V142.8Z"/>
<rect class="w" x="1248.2" y="76.8" width="34.4" height="7.9"/>
<rect class="w" x="1248.2" y="101" width="34.4" height="7.1"/>
<path fill="none" stroke="#f2f2f2" stroke-width="1.2" d="M1183.3,84.7H1311M1183.3,101H1311"/>
<rect class="g" x="1168.7" y="80.4" width="14.6" height="24.8"/>
<path class="g" d="M1311,80.4Q1320.3,82 1320.3,92.8Q1320.3,104 1311,105.2Z"/>
<path class="d" d="M1228,56.3H1292Q1298.5,56.3 1298.5,63V125Q1298.5,131.5 1292,131.5H1230Q1225,131.5 1225,125V110Q1225,102 1215,102H1212Q1207.8,102 1207.8,97V80Q1207.8,75 1212,75H1220Q1228,75 1228,68Z"/>
<path class="d" d="M1197,64.8V120.1M1266.7,36V230M1248.2,142.8H1282.6"/>
<rect class="w" x="1256.1" y="179.7" width="21.2" height="9.9"/>
<path class="d" d="M1259,198Q1266.7,208 1274,198M1259,198V223M1274,198V223"/>
<line class="dd" x1="1162" y1="92" x2="1326" y2="92"/>
<text class="b" x="1150" y="96">C</text>
<text class="b" x="1326" y="97">D</text>
<text class="b" x="1262" y="33" transform="rotate(90 1268.7 29)">B</text>
<text class="b" x="1262" y="237" transform="rotate(90 1268.7 233.5)">A</text>
<text class="L" x="1207" y="186" font-size="12" textLength="41" lengthAdjust="spacingAndGlyphs">Coupe</text>
<text class="L" x="1282" y="186" font-size="12" textLength="30" lengthAdjust="spacingAndGlyphs">horiz</text>
<text class="L" x="1313" y="180" font-size="8">le</text>
<text class="L" x="1217" y="206" font-size="12" textLength="22" lengthAdjust="spacingAndGlyphs">sur</text>
<text class="b" x="1290" y="206" textLength="30" lengthAdjust="spacingAndGlyphs">E.F.</text>

<!-- C.D. -->
<use href="#fin" x="1458.3" fill="#8f8f8f" stroke="#1c1c1c" stroke-width="1"/>
<use href="#finIn" x="1458.3" fill="#f7f7f7" stroke="#1c1c1c" stroke-width="0.8"/>
<path class="g" d="M1401,275.4H1516V314.6H1506.4V442.4H1490.8V405Q1490.8,396.8 1482,396.8H1429Q1420.6,396.8 1420.6,405V442.4H1385.5V398Q1376,392 1375.7,383V343.8Q1398,336 1409,316V314.6H1401Z"/>
<path class="w" d="M1385.5,442.4V420Q1395,410 1408,409.9H1420.6V442.4Z"/>
<path class="t" d="M1401,290H1516M1401,300H1516"/>
<path class="g" d="M1418.8,205Q1418.8,197.6 1430,197.6H1488Q1499.8,197.6 1499.8,205Q1497,230 1484,255V278H1434V255Q1421,230 1418.8,205Z"/>
<path class="w" d="M1424,206Q1424,202 1432,202H1486Q1494.5,202 1494.5,206Q1492,228 1479,253V276H1439V253Q1426,228 1424,206Z"/>
<rect class="o" x="1449.9" y="243" width="19.5" height="34"/>
<rect class="w" x="1438" y="277" width="43" height="126"/>
<rect class="g" x="1442" y="277" width="35" height="124.4"/>
<rect x="1362.8" y="357.6" width="143.6" height="18.4" fill="#a8a8a8" stroke="#1c1c1c" stroke-width="0.9"/>
<rect class="g" x="1362" y="353.8" width="13.7" height="29.2"/>
<path class="o" d="M1506.4,357.6Q1516,357.6 1516,366.8Q1516,376 1506.4,376Z"/>
<path class="n" d="M1405,300L1428,308M1490,308L1512,300"/>
<circle class="w" cx="1428" cy="306" r="2.5"/>
<circle class="w" cx="1490" cy="306" r="2.5"/>
<line class="dd" x1="1360" y1="366" x2="1524" y2="366"/>
<text class="b" x="1524" y="370">F</text>
<text class="b" x="1452" y="38" transform="rotate(90 1458.3 34)">B</text>
<text class="b" x="1454" y="462" transform="rotate(90 1460 458)">A</text>
<text class="L" x="1386" y="465" textLength="107" lengthAdjust="spacingAndGlyphs">Coupe sur <tspan class="b">C.D.</tspan></text>

<!-- I.J. -->
<path class="n" d="M994.3,487.3H1158.2M994.3,662.4H1158.2M1158.2,487.3V662.4M1029.8,487.3V662.4M1057.5,487.3V662.4M1071.3,487.3V662.4M1103,487.3V662.4M1142.4,487.3V662.4M1148.3,487.3V662.4"/>
<rect class="g" x="994.3" y="487.3" width="13" height="175"/>
<path class="d" d="M1042.8,487V662M1018,487V525M1097,487V525"/>
<path class="g" d="M1081,487.3H1091.8V516.5L1081,513Z"/>
<path class="g" d="M1081,628L1091.8,625V662.4H1081Z"/>
<rect class="o" x="1018" y="525.4" width="79" height="96.6"/>
<line class="dd" x1="985" y1="524.5" x2="1160" y2="524.5"/>
<text class="b" x="972" y="529">G</text>
<text class="b" x="1042" y="489" transform="rotate(90 1047.6 485)">L</text>
<text class="b" x="1042" y="669" transform="rotate(90 1047.6 665)">K</text>
<text class="b" x="1095" y="502" transform="rotate(90 1101 498.5)">X</text>
<text class="b" x="1095" y="651" transform="rotate(90 1101 647)">V</text>
<text class="L" x="1011" y="678" textLength="103" lengthAdjust="spacingAndGlyphs">Coupe sur <tspan class="b">I.J.</tspan></text>

<!-- G.H. -->
<path class="n" d="M1209.5,469V485M1264.8,469V485M1224,469V485M1251,469V485"/>
<path class="g" d="M1209.5,485H1264.8V527.7H1286.5V626.5H1264.8V613H1209.5V626.5H1185.8V527.7H1209.5Z"/>
<path class="w" d="M1224.5,496H1251V526Q1251,534.5 1260,534.5H1266Q1274.7,534.5 1274.7,543V600Q1274.7,608.5 1266,608.5H1208Q1199.6,608.5 1199.6,600V543Q1199.6,534.5 1208,534.5H1216Q1224.5,534.5 1224.5,526Z"/>
<rect class="w" x="1211.5" y="565" width="75" height="32.3"/>
<path fill="#8f8f8f" stroke="#1c1c1c" stroke-width="1" d="M1286.5,569.5H1345Q1351.7,569.5 1351.7,580Q1351.7,590.6 1345,590.6H1286.5Z"/>
<path class="d" d="M1237,469V626M1290,540V620"/>
<line class="dd" x1="1178" y1="599.5" x2="1300" y2="599.5"/>
<text class="b" x="1168" y="604">I</text>
<text class="b" x="1300" y="604">J</text>
<text class="b" x="1235" y="473" transform="rotate(90 1241 469)">K</text>
<text class="b" x="1231" y="628" transform="rotate(90 1237 624)">T</text>
<text class="b" x="1288" y="541" transform="rotate(90 1294 537)">Y</text>
<text class="L" x="1194" y="656" textLength="120" lengthAdjust="spacingAndGlyphs">Coupe sur <tspan class="b">G.H.</tspan></text>

<!-- K.L. -->
<path class="n" d="M1371.4,485H1505.7M1353.7,658H1505.7M1390,485L1375,658M1427,485V658M1432,485V658"/>
<polygon class="g" points="1371.4,485 1381.3,485 1363.6,658 1353.7,658"/>
<path class="d" d="M1476,485V658M1484,485V658"/>
<rect class="g" x="1493.9" y="485" width="11.8" height="173"/>
<rect class="o" x="1438.6" y="516.5" width="41.4" height="107.7"/>
<rect class="g" x="1443.7" y="523.2" width="32.4" height="94.3"/>
<line class="dd" x1="1334" y1="523.2" x2="1518" y2="523.2"/>
<text class="b" x="1520" y="527">H</text>
<text class="b" x="1474" y="478" transform="rotate(90 1480 474)">J</text>
<text class="b" x="1474" y="664" transform="rotate(90 1480 660)">I</text>
<text class="L" x="1371" y="678" textLength="115" lengthAdjust="spacingAndGlyphs">Coupe sur <tspan class="b">K.L.</tspan></text>

<!-- T.U. -->
<path class="n" d="M994.2,708.6H1157.7M1011,708.6V838M1032.6,747V838M1058.8,747V838M1075,740V838M1098,708.6V838"/>
<path class="n" d="M1032.6,708.6V740Q1032.6,747 1040,747H1051Q1058.8,747 1058.8,740V708.6"/>
<path class="g" d="M994.2,708.6H1008V838.2H984.6V770Q987,765 994.2,762Z"/>
<path class="g" d="M1080.5,708.6H1094.3V750L1080.5,745Z"/>
<path class="n" d="M1103,708.6V826.6H1171.4V760H1152.5V708.6"/>
<path class="d" d="M1008,768H1098M1043.9,700V880M1020,760V836M1068,760V836"/>
<path class="g" d="M964,846Q968,838 990,836H1092Q1115,838 1123.4,850V865H964Z"/>
<rect class="o" x="1017" y="865" width="55" height="22.8"/>
<polygon points="1043.9,787 1052,792 1052,803 1043.9,808 1035.8,803 1035.8,792" fill="none" stroke="#1c1c1c" stroke-width="0.7"/>
<circle class="n" cx="1043.9" cy="797.6" r="8"/>
<circle class="g" cx="1043.9" cy="797.6" r="5"/>
<line class="dd" x1="970" y1="797.6" x2="1180" y2="797.6"/>
<text class="b" x="961" y="802">M</text>
<text class="b" x="1038" y="704" transform="rotate(90 1044 700)">S</text>
<text class="b" x="1092" y="706" transform="rotate(90 1097.7 701.7)">P</text>
<text class="b" x="1038" y="882" transform="rotate(90 1044 878)">R</text>
<text class="b" x="1094" y="856" transform="rotate(90 1100.5 852)">O</text>
<text class="L" x="990" y="906" textLength="107" lengthAdjust="spacingAndGlyphs">Coupe sur <tspan class="b">T.U</tspan></text>

<!-- R.S. -->
<path class="n" d="M1283.8,708.6H1514M1414,708.6V767.9M1514,708.6V745.8"/>
<path class="g" d="M1240.3,767.9L1283.8,708.6H1299.1L1262,767.9Z"/>
<path class="g" d="M1240.3,767.9H1262V806.5H1411.5V745.8H1521.4V823Q1525,832 1543.1,836.8V864.4H1490.7V890.6H1437V864.4H1295.3V890.6H1240.3V864.4H1217.3V836.8Q1235,832 1240.3,823Z"/>
<rect class="g" x="1497" y="708.6" width="14" height="37.2"/>
<path class="n" d="M1426.8,708.6V738Q1426.8,745.8 1435,745.8H1490Q1497,745.8 1497,738V708.6"/>
<path class="w" d="M1262,806.5H1411.5V830Q1411.5,838.2 1403,838.2H1270Q1262,838.2 1262,830Z"/>
<path class="d" d="M1262,767.9H1414M1438,708.6V745.8M1475,708.6V745.8"/>
<rect class="w" x="1444.7" y="737.5" width="39.6" height="111.8"/>
<rect class="g" x="1447.5" y="745" width="34" height="93"/>
<rect x="1225" y="792.7" width="297.7" height="13.8" fill="#a8a8a8" stroke="#1c1c1c" stroke-width="0.9"/>
<rect class="g" x="1225" y="784.4" width="15.3" height="27.6"/>
<path class="o" d="M1522.7,792.7Q1533,792.7 1533,799.6Q1533,806.5 1522.7,806.5Z"/>
<line class="dd" x1="1215" y1="798.2" x2="1545" y2="798.2"/>
<text class="b" x="1544" y="802">N</text>
<text class="b" x="1474" y="704" transform="rotate(90 1480.5 700.3)">L</text>
<text class="L" x="1312" y="888" textLength="110" lengthAdjust="spacingAndGlyphs">Coupe sur <tspan class="b">R.S</tspan></text>

<!-- M.N. -->
<rect class="o" x="1217.3" y="910" width="325.8" height="160"/>
<path class="t" d="M1217.3,910L1224,916M1543.1,910L1536,916M1217.3,1070L1224,1064M1543.1,1070L1536,1064"/>
<path class="g" d="M1240.3,954H1405V930.6H1522.7V1047.9H1405V1025.8H1240.3Z"/>
<path class="w" d="M1273,976.2H1404Q1414,976.2 1414,990Q1414,1003.8 1404,1003.8H1273Q1262,1003.8 1262,990Q1262,976.2 1273,976.2Z"/>
<rect class="d" x="1430" y="945" width="75" height="90" rx="8"/>
<rect class="w" x="1443.5" y="954" width="38.3" height="116"/>
<rect class="g" x="1446.5" y="963.8" width="32.3" height="53.7"/>
<rect class="g" x="1451.1" y="1047.9" width="24.3" height="40.1"/>
<rect x="1227.5" y="983" width="295.2" height="15.3" fill="#a8a8a8" stroke="#1c1c1c" stroke-width="0.9"/>
<rect class="g" x="1227.5" y="975" width="12.8" height="28"/>
<path class="o" d="M1522.7,983Q1533,983 1533,990.6Q1533,998.3 1522.7,998.3Z"/>
<circle class="d" cx="1277.4" cy="990" r="27"/>
<circle class="d" cx="1463.9" cy="990" r="27"/>
<line class="dd" x1="1205" y1="990" x2="1548" y2="990"/>
<path class="d" d="M1430,1056.2H1503M1472,700V1090"/>
<text class="b" x="1193" y="994">R</text>
<text class="b" x="1548" y="994">S</text>
<text class="b" x="1420" y="1060">O</text>
<text class="b" x="1502" y="1060">P</text>
<text class="b" x="1474" y="1089" transform="rotate(90 1480 1085)">T</text>
<text class="L" x="1243" y="1085" textLength="185" lengthAdjust="spacingAndGlyphs">Coupe horiz.le sur <tspan class="b">M.N.</tspan></text>
</svg>
</body></html>
